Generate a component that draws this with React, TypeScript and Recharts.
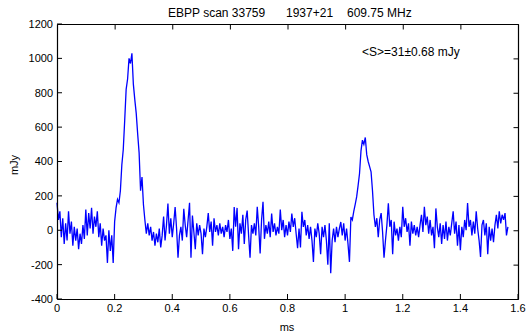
import React from 'react';
import { LineChart, Line, XAxis, YAxis } from 'recharts';

// sampling step of the profile (ms)
const STEP_MS = 0.005;

// off-pulse noise before the main pulse, starting at 0 ms
const offPulseA = [160, 60, 110, -40, 70, -80, 40, -60, 110, -20, 50, -90, 20, -60, 10, -110, -20, -80, 30, -50, 120, -30, 100, 10, 130, -20, 80, 20, 110, -40, 40, -90, 10, -60, -30, -190, 0, -120, -30, -190, 50];
const offPulseAStart = 0;

// main pulse, starting at 0.205 ms
const mainPulse = [130, 180, 160, 230, 380, 470, 640, 820, 880, 1000, 970, 1030, 850, 760, 680, 560, 450, 230, 310, 150, 60, -20];
const mainPulseStart = 0.205;

// off-pulse noise between pulses, starting at 0.315 ms
const offPulseB = [
  40, -30, 20, -60, -10, -90, -20, -70, 10, -100,
  -30, 80, -60, 30, 155, -20, 70, -40, 40, 135,
  10, -160, -30, 20, -60, 125, 30, -40, 60, 160,
  -160, 85, -10, -110, 40, -30, 30, -20, -140, 10,
  -40, 20, 100, -10, 50, -90, 70, -10, 30, -30,
  40, -20, 20, -40, 30, -10, 60, -50, 10, -120,
  135, 20, 130, -110, 40, -20, 90, -80, 60, 115,
  -30, -160, 30, -20, 40, -30, 136, 20, -135, 60,
  165, -50, 30, -20, 50, -40, 97, -10, 40, -30,
  20, -20, 120, 0, 60, -40, 30, -30, 50, -10,
  97, 20, 70, -20, -105, 10, -100, 107, 20, 60,
  -30, 30, -50, 20, -60, -184, 10, -40, 40, -20,
  -140, 20, -40, 30, -60, -200, 40, -250, -60, 10,
  -70, 20, -40, 10, 48, -30, 40, -60, 10, -80,
  -184,
];
const offPulseBStart = 0.315;

// interpulse, starting at 1.020 ms
const interPulse = [77, 60, 110, 150, 194, 260, 330, 460, 524, 500, 540, 440, 400, 370, 340, 230, 90, 20];
const interPulseStart = 1.02;

// off-pulse noise after the interpulse, starting at 1.110 ms
const offPulseC = [
  70, -40, 60, 100, -10, -160, -60, 30, 157, 20,
  60, -140, 50, -30, 10, -60, 20, -40, 136, 20,
  70, -10, 40, -90, 50, -20, 30, -30, 20, -40,
  30, 90, -10, 136, 30, 80, -20, 60, -30, 20,
  -105, 127, 20, -40, 40, -80, 30, -50, 50, -60,
  20, -30, 40, 110, -20, 50, -90, 30, -116, 20,
  -40, 60, 0, 158, 20, 60, -30, 50, -20, 110,
  10, -60, -155, 30, 60, -30, 40, -140, 20, -60,
  10, -70, 30, 90, 10, 110, 40, 90, 60, 100,
  -30, 20,
];
const offPulseCStart = 1.11;

const xTicks = [0, 0.2, 0.4, 0.6, 0.8, 1, 1.2, 1.4, 1.6];
const yTicks = [-400, -200, 0, 200, 400, 600, 800, 1000, 1200];
const X_DOMAIN: [number, number] = [0, 1.6];
const Y_DOMAIN: [number, number] = [-400, 1200];

const titleParts = ['EBPP scan 33759', '1937+21', '609.75 MHz'];
const annotation = '<S>=31±0.68 mJy';

const segments = [
  { start: offPulseAStart, values: offPulseA },
  { start: mainPulseStart, values: mainPulse },
  { start: offPulseBStart, values: offPulseB },
  { start: interPulseStart, values: interPulse },
  { start: offPulseCStart, values: offPulseC },
];

const data = segments.flatMap((s) =>
  s.values.map((v, i) => ({ ms: Math.round((s.start + i * STEP_MS) * 1000) / 1000, mJy: v }))
);

// chart layout
const W = 526;
const H = 334;
const MARGIN = { top: 24, right: 8, bottom: 0, left: 0 };
const Y_AXIS_W = 57;
const X_AXIS_H = 35;
const PLOT_L = MARGIN.left + Y_AXIS_W;
const PLOT_T = MARGIN.top;
const PLOT_W = W - MARGIN.right - PLOT_L;
const PLOT_H = H - MARGIN.bottom - X_AXIS_H - PLOT_T;
const TICK = 5;

const FONT = '"Liberation Sans", Arial, Helvetica, sans-serif';

// frame with mirrored top / right ticks (MATLAB style box)
const Frame = () => {
  const sx = (v: number) => PLOT_L + ((v - X_DOMAIN[0]) / (X_DOMAIN[1] - X_DOMAIN[0])) * PLOT_W;
  const sy = (v: number) => PLOT_T + ((Y_DOMAIN[1] - v) / (Y_DOMAIN[1] - Y_DOMAIN[0])) * PLOT_H;
  const left = PLOT_L + 0.5;
  const right = PLOT_L + PLOT_W + 0.5;
  const top = PLOT_T + 0.5;
  const bottom = PLOT_T + PLOT_H + 0.5;
  return (
    <g>
      <line x1={left} y1={top} x2={right} y2={top} stroke="#000" strokeWidth={1.2} />
      <line x1={right} y1={top} x2={right} y2={bottom} stroke="#000" strokeWidth={1.2} />
      <line x1={left} y1={bottom} x2={right} y2={bottom} stroke="#000" strokeWidth={1.2} />
      <line x1={left} y1={top} x2={left} y2={bottom} stroke="#000" strokeWidth={1.2} />
      {xTicks.map((t) => (
        <line key={'tx' + t} x1={sx(t) + 0.5} y1={top} x2={sx(t) + 0.5} y2={top + TICK} stroke="#000" strokeWidth={1} />
      ))}
      {yTicks.map((t) => (
        <line key={'ty' + t} x1={right} y1={sy(t) + 0.5} x2={right - TICK} y2={sy(t) + 0.5} stroke="#000" strokeWidth={1} />
      ))}
    </g>
  );
};

export default function App() {
  return (
    <div
      style={{
        position: 'absolute',
        left: 0,
        top: 0,
        width: W,
        height: H,
        background: '#fff',
        fontFamily: FONT,
      }}
    >
      <LineChart width={W} height={H} data={data} margin={MARGIN}>
        <XAxis
          dataKey="ms"
          type="number"
          domain={X_DOMAIN}
          ticks={xTicks}
          interval={0}
          height={X_AXIS_H}
          tickSize={-TICK}
          tickMargin={10}
          stroke="#000"
          axisLine={false}
          tick={{ fill: '#000', fontSize: 11, fontFamily: FONT }}
          tickFormatter={(v: number) => String(v)}
        />
        <YAxis
          type="number"
          domain={Y_DOMAIN}
          ticks={yTicks}
          interval={0}
          width={Y_AXIS_W}
          tickSize={-TICK}
          tickMargin={9}
          stroke="#000"
          axisLine={false}
          tick={{ fill: '#000', fontSize: 11, fontFamily: FONT }}
        />
        <Line
          type="linear"
          dataKey="mJy"
          stroke="#0000ff"
          strokeWidth={1.3}
          dot={false}
          activeDot={false}
          isAnimationActive={false}
        />
      </LineChart>
      <svg
        width={W}
        height={H}
        style={{ position: 'absolute', left: 0, top: 0, pointerEvents: 'none', fontFamily: FONT }}
      >
        <Frame />
        <text x={168} y={16.5} fontSize={12} fill="#000">{titleParts[0]}</text>
        <text x={286} y={16.5} fontSize={12} fill="#000">{titleParts[1]}</text>
        <text x={347} y={16.5} fontSize={12} fill="#000">{titleParts[2]}</text>
        <text x={362} y={56} fontSize={12} fill="#000">{annotation}</text>
        <text x={287} y={331} fontSize={11} fill="#000" textAnchor="middle">ms</text>
        <text x={18} y={165} fontSize={11} fill="#000" textAnchor="middle" transform="rotate(-90 18 165)">mJy</text>
      </svg>
    </div>
  );
}
